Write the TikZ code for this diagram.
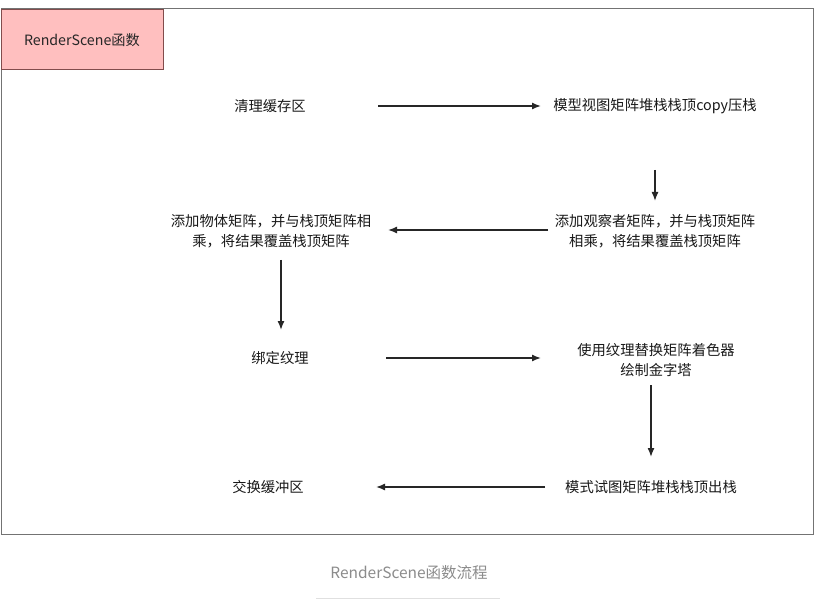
\documentclass[tikz,border=0pt]{standalone}
\usepackage{fontspec}
\setmainfont{Noto Sans CJK SC}
\usetikzlibrary{arrows.meta}
\begin{document}
\begin{tikzpicture}[x=1pt,y=-1pt,
  lbl/.style={font=\fontsize{14.3}{20}\selectfont, text=black!90, align=center, inner sep=0pt},
  flow/.style={-{Latex[length=9pt,width=7pt]}, line width=1.4pt, black!85}]
\useasboundingbox (0,0) rectangle (816,612);
\fill[white] (0,0) rectangle (816,612);
\draw[black!55, line width=1pt] (1,9) rectangle (813,534);
\node[draw=red!30!black!70, fill=red!25!white, line width=0.8pt, minimum width=162pt, minimum height=60pt, anchor=north west, inner sep=0pt, font=\fontsize{14.2}{16}\selectfont, text=black!85] (title) at (0.5,9.5) {RenderScene函数};
\node[lbl] (a) at (270,106) {清理缓存区};
\node[lbl] (b) at (655,106) {模型视图矩阵堆栈栈顶copy压栈};
\node[lbl] (c) at (655,231) {添加观察者矩阵，并与栈顶矩阵\\相乘，将结果覆盖栈顶矩阵};
\node[lbl] (d) at (271,231) {添加物体矩阵，并与栈顶矩阵相\\乘，将结果覆盖栈顶矩阵};
\node[lbl] (e) at (280,358) {绑定纹理};
\node[lbl] (f) at (656,360) {使用纹理替换矩阵着色器\\绘制金字塔};
\node[lbl] (g) at (651,487) {模式试图矩阵堆栈栈顶出栈};
\node[lbl] (h) at (268,487) {交换缓冲区};
\node[font=\fontsize{15.5}{18}\selectfont, text=black!45, inner sep=0pt] (cap) at (409,573) {RenderScene函数流程};
\coordinate (u1) at (316,598);
\coordinate (u2) at (500,598);
\draw[black!12, line width=0.8pt] (u1) -- (u2);
\coordinate (a1) at (378,106); \coordinate (b1) at (541,106);
\draw[flow] (a1) -- (b1);
\coordinate (b2) at (655,170); \coordinate (c1) at (655,201);
\draw[flow] (b2) -- (c1);
\coordinate (c2) at (548,230); \coordinate (d1) at (388,230);
\draw[flow] (c2) -- (d1);
\coordinate (d2) at (281,260); \coordinate (e1) at (281,330);
\draw[flow] (d2) -- (e1);
\coordinate (e2) at (386,358); \coordinate (f1) at (541,358);
\draw[flow] (e2) -- (f1);
\coordinate (f2) at (651,385); \coordinate (g1) at (651,457);
\draw[flow] (f2) -- (g1);
\coordinate (g2) at (545,487); \coordinate (h1) at (376,487);
\draw[flow] (g2) -- (h1);
\end{tikzpicture}
\end{document}
